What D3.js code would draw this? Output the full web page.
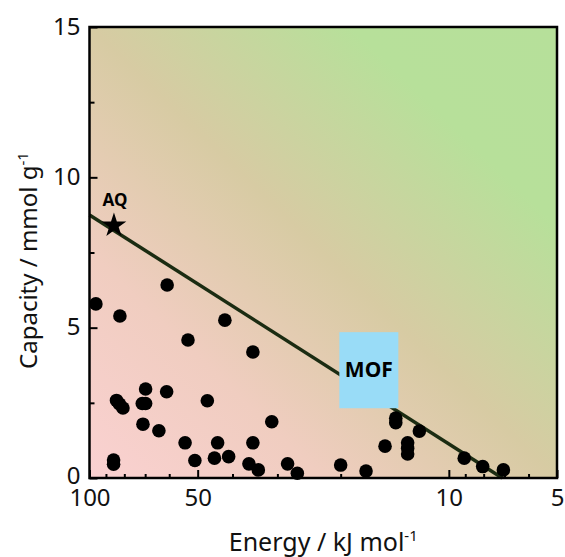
<!DOCTYPE html>
<html>
<head>
<meta charset="utf-8">
<script src="https://cdn.jsdelivr.net/npm/d3@7"></script>
<style>
  body { margin: 0; background: #fff; }
  text { font-family: "Noto Sans", sans-serif; }
</style>
</head>
<body>
<div id="chart"></div>
<script>
// data (energy in kJ/mol, capacity in mmol/g)
var energy = [96, 82.3, 60.8, 42, 53.2, 35.1, 69.8, 61, 84.1, 82.5, 80.7, 71.3, 69.8, 47,
    31.1, 71, 64.1, 54.2, 44, 35.1, 85.7, 85.7, 50.9, 44.9, 41, 36, 33.9, 28.1, 26.4,
    20, 17, 14.05, 14.05, 12.08, 15.05, 13.02, 13.02, 13.02, 9.06, 8.05, 7.05];
var capacity = [5.79, 5.39, 6.42, 5.25, 4.59, 4.19, 2.96, 2.87, 2.58, 2.46, 2.33, 2.48, 2.48, 2.57,
    1.87, 1.79, 1.57, 1.17, 1.17, 1.17, 0.6, 0.46, 0.58, 0.66, 0.71, 0.47, 0.27, 0.47, 0.16,
    0.43, 0.23, 1.99, 1.84, 1.56, 1.06, 1.17, 0.99, 0.8, 0.66, 0.38, 0.27];

var aqPoint = { energy: 85.5, capacity: 8.4, label: "AQ" };
var mofBox = { energy: [20.17, 13.82], capacity: [2.32, 4.85], label: "MOF" };
var trendEnergy = [100, 7.1];
var trendCapacity = [8.75, 0];

var xMajorTicks = [100, 50, 10, 5];
var xMinorTicks = [90, 80, 70, 60, 40, 30, 20, 9, 8, 7, 6];
var yMajorTicks = [0, 5, 10, 15];
var yMinorTicks = [2.5, 7.5, 12.5];

var margin = { top: 27, right: 8, bottom: 79, left: 89.5 },
    width = 565 - margin.left - margin.right,
    height = 557 - margin.top - margin.bottom;

var root = d3.select("#chart")
    .append("svg")
    .attr("width", 565)
    .attr("height", 557);

// background gradient pink -> tan -> green
var grad = root.append("defs").append("linearGradient")
    .attr("id", "bg")
    .attr("x1", 0).attr("y1", 1)
    .attr("x2", 1).attr("y2", 0);
grad.append("stop").attr("offset", "0").attr("stop-color", "#fad1d1");
grad.append("stop").attr("offset", "0.25").attr("stop-color", "#f0cdc0");
grad.append("stop").attr("offset", "0.5").attr("stop-color", "#d7cba3");
grad.append("stop").attr("offset", "0.78").attr("stop-color", "#b7e09a");
grad.append("stop").attr("offset", "1").attr("stop-color", "#b6e09a");

var svg = root.append("g")
    .attr("transform", "translate(" + margin.left + "," + margin.top + ")");

var x = d3.scaleLog().domain([100, 5]).range([0, width]);
var y = d3.scaleLinear().domain([0, 15]).range([height, 0]);

svg.append("rect")
    .attr("width", width)
    .attr("height", height)
    .attr("fill", "url(#bg)");

// trend line
svg.append("path")
    .datum(d3.range(trendEnergy.length))
    .attr("fill", "none")
    .attr("stroke", "#1b2c12")
    .attr("stroke-width", 3.5)
    .attr("d", d3.line()
        .x(function (i) { return x(trendEnergy[i]); })
        .y(function (i) { return y(trendCapacity[i]); }));

// MOF box
svg.append("rect")
    .attr("x", x(mofBox.energy[0]))
    .attr("y", y(mofBox.capacity[1]))
    .attr("width", x(mofBox.energy[1]) - x(mofBox.energy[0]))
    .attr("height", y(mofBox.capacity[0]) - y(mofBox.capacity[1]))
    .attr("fill", "#99dcf7");

svg.append("text")
    .attr("x", (x(mofBox.energy[0]) + x(mofBox.energy[1])) / 2)
    .attr("y", (y(mofBox.capacity[0]) + y(mofBox.capacity[1])) / 2 + 1)
    .attr("text-anchor", "middle")
    .attr("dominant-baseline", "middle")
    .style("font-size", "21px")
    .style("font-weight", "bold")
    .text(mofBox.label);

// dots
svg.append("g")
    .selectAll("circle")
    .data(d3.range(energy.length))
    .enter()
    .append("circle")
    .attr("cx", function (i) { return x(energy[i]); })
    .attr("cy", function (i) { return y(capacity[i]); })
    .attr("r", 6.8)
    .attr("fill", "#000");

// AQ star
svg.append("path")
    .attr("d", d3.symbol(d3.symbolStar).size(190)())
    .attr("transform", "translate(" + x(aqPoint.energy) + "," + y(aqPoint.capacity) + ")")
    .attr("fill", "#000");

svg.append("text")
    .attr("x", x(aqPoint.energy) + 1)
    .attr("y", y(aqPoint.capacity) - 19)
    .attr("text-anchor", "middle")
    .style("font-size", "17px")
    .style("font-weight", "bold")
    .text(aqPoint.label);

// axes (ticks inward)
var xAxis = svg.append("g")
    .attr("transform", "translate(0," + height + ")")
    .call(d3.axisBottom(x).tickValues(xMajorTicks).tickSize(-8).tickPadding(15)
        .tickFormat(d3.format("d")));
svg.append("g")
    .attr("transform", "translate(0," + height + ")")
    .call(d3.axisBottom(x).tickValues(xMinorTicks).tickSize(-4).tickFormat(""));

var yAxis = svg.append("g")
    .call(d3.axisLeft(y).tickValues(yMajorTicks).tickSize(-8).tickPadding(9));
svg.append("g")
    .call(d3.axisLeft(y).tickValues(yMinorTicks).tickSize(-5).tickFormat(""));

svg.selectAll(".domain").remove();
svg.selectAll(".tick line").attr("stroke", "#000").attr("stroke-width", 2);
svg.selectAll(".tick text")
    .attr("fill", "#111")
    .style("font-family", "'Noto Sans', sans-serif")
    .style("font-size", "24px");
xAxis.selectAll(".tick text").attr("dy", "0.55em");
yAxis.selectAll(".tick text").attr("dy", function (d) { return d === 0 ? "0.22em" : "0.3em"; });

// frame
svg.append("rect")
    .attr("width", width)
    .attr("height", height)
    .attr("fill", "none")
    .attr("stroke", "#000")
    .attr("stroke-width", 2.5);

// axis titles
var xt = root.append("text")
    .attr("x", margin.left + width / 2)
    .attr("y", 551)
    .attr("text-anchor", "middle")
    .style("font-size", "25px")
    .attr("fill", "#111")
    .text("Energy / kJ mol");
xt.append("tspan").attr("dy", -10).style("font-size", "15px").text("-1");

var yt = root.append("text")
    .attr("transform", "translate(37," + (margin.top + height / 2 + 8) + ") rotate(-90)")
    .attr("text-anchor", "middle")
    .style("font-size", "24px")
    .attr("fill", "#111")
    .text("Capacity / mmol g");
yt.append("tspan").attr("dy", -9).style("font-size", "15px").text("-1");
</script>
</body>
</html>
